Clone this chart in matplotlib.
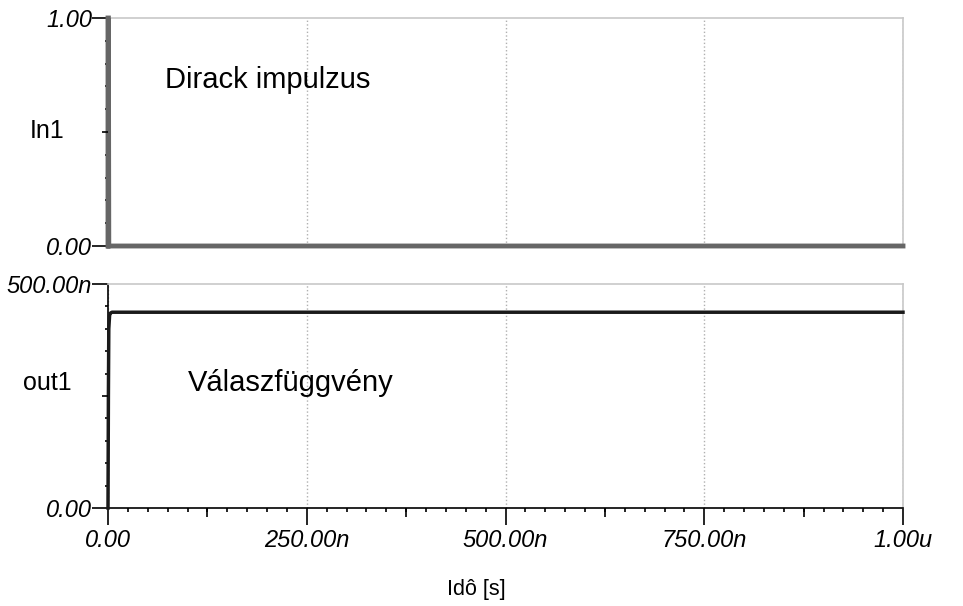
#!/usr/bin/env python3
import matplotlib
matplotlib.use("Agg")
import matplotlib.pyplot as plt
from matplotlib.ticker import FixedLocator, MultipleLocator

plt.rcParams["font.family"] = ["Liberation Sans", "DejaVu Sans"]

# -----------------------------
# data (time in seconds)
# -----------------------------
t_in = [0.0, 0.0, 0.5e-9, 1.0e-9, 1.0e-6]
v_in = [0.0, 1.0, 1.0, 0.0, 0.0]

t_out = [0.0, 0.5e-9, 1.0e-9, 2.0e-9, 3.0e-9, 5.0e-9, 1.0e-6]
v_out = [0.0, 250e-9, 400e-9, 430e-9, 435e-9, 437e-9, 437e-9]

x_ticks = [0.0, 250e-9, 500e-9, 750e-9, 1.0e-6]
x_mid_ticks = [125e-9, 375e-9, 625e-9, 875e-9]
x_ticklabels = ["0.00", "250.00n", "500.00n", "750.00n", "1.00u"]

top_label = "In1"
bot_label = "out1"
top_text = "Dirack impulzus"
bot_text = "Válaszfüggvény"
x_label = "Idô [s]"

W, H = 963, 606
X0, X1 = 108, 903
PX = 72 / 100  # pixels -> points
fig = plt.figure(figsize=(W / 100, H / 100), dpi=100)

left = X0 / W
width = (X1 - X0) / W
ax1 = fig.add_axes([left, 1 - 246 / H, width, (246 - 18) / H])
ax2 = fig.add_axes([left, 1 - 508 / H, width, (508 - 284) / H])

tick_font = dict(fontsize=17, style="italic")
grid_col = "#b0b0b0"
frame_col = "#c8c8c8"


def style_axes(ax, ymax, ylabels, xticks_on):
    ax.set_xlim(0, 1.0e-6)
    ax.set_ylim(0, ymax)
    for s in ("top", "right"):
        ax.spines[s].set_color(frame_col)
        ax.spines[s].set_linewidth(1.2)
    ax.spines["left"].set_color("black")
    ax.spines["left"].set_linewidth(1.2)
    ax.spines["bottom"].set_color("black")
    ax.spines["bottom"].set_linewidth(1.2)

    ax.yaxis.set_major_locator(FixedLocator([0, ymax]))
    ax.set_yticklabels(ylabels, **tick_font)
    ax.yaxis.set_minor_locator(FixedLocator([ymax * k / 10 for k in range(1, 10) if k != 5]))
    ax.tick_params(axis="y", which="major", direction="out", length=16 * PX, width=1.2, pad=0)
    ax.tick_params(axis="y", which="minor", direction="out", length=3 * PX, width=1.2)

    ax.xaxis.set_major_locator(FixedLocator(x_ticks))
    ax.xaxis.set_minor_locator(MultipleLocator(25e-9))
    ax.grid(True, axis="x", which="major", color=grid_col, linestyle=":", linewidth=1.0)
    if xticks_on:
        ax.set_xticklabels(x_ticklabels, **tick_font)
        ax.tick_params(axis="x", which="major", direction="out", length=17 * PX, width=1.2, pad=3)
        ax.tick_params(axis="x", which="minor", direction="out", length=4 * PX, width=1.2)
    else:
        ax.tick_params(axis="x", which="both", length=0, labelbottom=False)


style_axes(ax1, 1.0, ["0.00", "1.00"], False)
style_axes(ax2, 500e-9, ["0.00", "500.00n"], True)

# mid-range tick marks (medium length) via twin axes
for ax in (ax1, ax2):
    ty = ax.twinx()
    ty.set_ylim(ax.get_ylim())
    ty.yaxis.set_ticks_position("left")
    ty.yaxis.set_major_locator(FixedLocator([ax.get_ylim()[1] / 2]))
    ty.tick_params(axis="y", direction="out", length=6 * PX, width=1.2, labelleft=False, labelright=False)
    for s in ty.spines.values():
        s.set_visible(False)

tx = ax2.twiny()
tx.set_xlim(ax2.get_xlim())
tx.xaxis.set_ticks_position("bottom")
tx.xaxis.set_major_locator(FixedLocator(x_mid_ticks))
tx.tick_params(axis="x", direction="out", length=9 * PX, width=1.2, labelbottom=False, labeltop=False)
for s in tx.spines.values():
    s.set_visible(False)

ax1.plot(t_in, v_in, color="#666666", linewidth=3.5, solid_joinstyle="miter", clip_on=False, zorder=5)
ax2.plot(t_out, v_out, color="#1a1a1a", linewidth=2.5, clip_on=False, zorder=5)

ax1.set_ylabel(top_label, fontsize=18, rotation=0, ha="center", va="center", labelpad=0)
ax1.yaxis.set_label_coords(-(X0 - 47) / (X1 - X0), (246 - 131) / (246 - 18))
ax2.set_ylabel(bot_label, fontsize=18, rotation=0, ha="center", va="center", labelpad=0)
ax2.yaxis.set_label_coords(-(X0 - 47) / (X1 - X0), (508 - 383) / (508 - 284))

ax1.text((165 - X0) / (X1 - X0), (246 - 80) / (246 - 18), top_text,
         transform=ax1.transAxes, fontsize=21, ha="left", va="center")
ax2.text((188 - X0) / (X1 - X0), (508 - 383) / (508 - 284), bot_text,
         transform=ax2.transAxes, fontsize=21, ha="left", va="center")

fig.text(476 / W, 1 - 590 / H, x_label, fontsize=15.5, ha="center", va="center")

fig.savefig("out.png", dpi=100)
